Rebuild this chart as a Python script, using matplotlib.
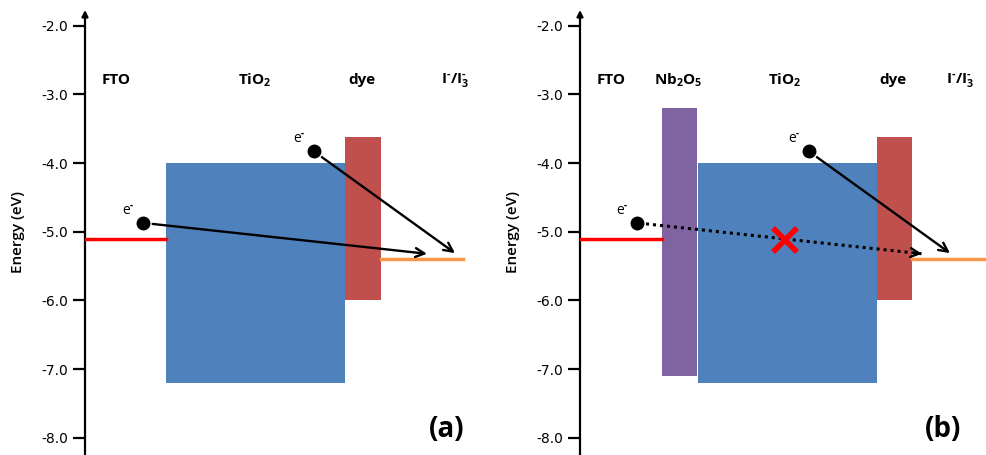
import matplotlib
matplotlib.use('Agg')
import matplotlib.pyplot as plt

plt.rcParams['font.family'] = ['Open Sans', 'DejaVu Sans']
plt.rcParams['mathtext.fontset'] = 'custom'
plt.rcParams['mathtext.rm'] = 'Open Sans:bold'
plt.rcParams['mathtext.it'] = 'Open Sans:bold'
plt.rcParams['mathtext.bf'] = 'Open Sans:bold'
plt.rcParams['mathtext.default'] = 'rm'

# energy levels (eV)
fto_level = -5.1
redox_level = -5.4
tio2_band = (-4.0, -7.2)
dye_band = (-3.62, -6.0)
nb2o5_band = (-3.2, -7.1)
yticks = [-2.0, -3.0, -4.0, -5.0, -6.0, -7.0, -8.0]
ytick_labels = ['-2.0', '-3.0', '-4.0', '-5.0', '-6.0', '-7.0', '-8.0']

# electron positions (x, energy)
e_start = (58, -4.87)
e_dye = (229, -3.83)
e_end_tio2 = (342, -5.32)
e_end_dye = (370, -5.31)

blue = '#4F81BD'
dred = '#C0504D'
purple = '#8064A2'
orange = '#F79646'

W, H = 986, 455
fig = plt.figure(figsize=(W / 100, H / 100), dpi=100)
ymin, ymax = -8.25, -1.77
SUP = r'$^{\text{-}}$'


def setup(ax, xmax):
    ax.set_xlim(0, xmax)
    ax.set_ylim(ymin, ymax)
    for s in ['top', 'right', 'bottom', 'left']:
        ax.spines[s].set_visible(False)
    ax.set_xticks([])
    ax.set_yticks(yticks)
    ax.set_yticklabels(ytick_labels, fontsize=10, family='DejaVu Sans')
    ax.tick_params(axis='y', direction='out', length=9, width=1.6, pad=3)
    # y axis drawn as an arrow
    ax.annotate('', xy=(0, ymax), xytext=(0, ymin),
                arrowprops=dict(arrowstyle='-|>', lw=1.6, color='k', mutation_scale=9,
                                shrinkA=0, shrinkB=0),
                annotation_clip=False)


def band(ax, x0, x1, b, color):
    ax.bar((x0 + x1) / 2, b[0] - b[1], width=x1 - x0, bottom=b[1], color=color, zorder=2)


def electron(ax, pos, label_dx=-15, label_dy=0.17):
    ax.plot(*pos, 'o', color='k', ms=9, zorder=5)
    ax.text(pos[0] + label_dx, pos[1] + label_dy, 'e' + SUP, fontsize=10,
            ha='center', va='center', zorder=5)


def arrow(ax, p0, p1):
    ax.annotate('', xy=p1, xytext=p0,
                arrowprops=dict(arrowstyle='->', lw=1.7, color='k',
                                mutation_scale=16, shrinkA=7, shrinkB=0),
                zorder=6)


def dotted_arrow(ax, p0, p1):
    # dotted shaft, solid head
    x0 = p0[0] + 9
    y0 = p0[1] + (p1[1] - p0[1]) * 9 / (p1[0] - p0[0])
    ax.plot([x0, p1[0]], [y0, p1[1]], color='k', lw=2.2, linestyle=(0, (1, 1.3)), zorder=6)
    t = 0.97
    pm = (p0[0] + (p1[0] - p0[0]) * t, p0[1] + (p1[1] - p0[1]) * t)
    ax.annotate('', xy=p1, xytext=pm,
                arrowprops=dict(arrowstyle='->', lw=1.7, color='k',
                                mutation_scale=16, shrinkA=0, shrinkB=0),
                zorder=6)


label_y = -2.79
lab_fs = 11

# panel (a)
ax1 = fig.add_axes([85 / W, 0, 400 / W, 445 / H])
setup(ax1, 400)
ax1.plot([0, 81], [fto_level, fto_level], color='#FF0000', lw=2.5, zorder=3)
band(ax1, 81, 260, tio2_band, blue)
band(ax1, 260, 296, dye_band, dred)
ax1.plot([296, 378], [redox_level, redox_level], color=orange, lw=2.5, zorder=3)
electron(ax1, e_start)
electron(ax1, e_dye)
arrow(ax1, e_start, e_end_tio2)
arrow(ax1, e_dye, e_end_dye)
for x, t in [(31, 'FTO'), (170, 'TiO$_2$'), (277, 'dye'), (370, 'I' + SUP + '/I$_3^{\\text{-}}$')]:
    ax1.text(x, label_y, t, fontsize=lab_fs, fontweight='bold', ha='center', va='center')
ax1.text(362, -7.88, '(a)', fontsize=20, fontweight='bold', ha='center', va='center')
fig.text(18 / W, 1 - 232 / H, 'Energy (eV)', rotation=90, fontsize=11,
         fontweight='semibold', ha='center', va='center')

# panel (b)
ax2 = fig.add_axes([580 / W, 0, 406 / W, 445 / H])
setup(ax2, 406)
ax2.plot([0, 82], [fto_level, fto_level], color='#FF0000', lw=2.5, zorder=3)
band(ax2, 82, 117, nb2o5_band, purple)
band(ax2, 118, 297, tio2_band, blue)
band(ax2, 297, 332, dye_band, dred)
ax2.plot([332, 406], [redox_level, redox_level], color=orange, lw=2.5, zorder=3)
electron(ax2, (57, e_start[1]))
electron(ax2, e_dye)
dotted_arrow(ax2, (57, e_start[1]), e_end_tio2)
arrow(ax2, e_dye, e_end_dye)
ax2.plot(205, -5.12, 'x', color='#FF0000', ms=17, mew=4, zorder=7)
for x, t in [(31, 'FTO'), (98, 'Nb$_2$O$_5$'), (205, 'TiO$_2$'), (313, 'dye'),
             (380, 'I' + SUP + '/I$_3^{\\text{-}}$')]:
    ax2.text(x, label_y, t, fontsize=lab_fs, fontweight='bold', ha='center', va='center')
ax2.text(363, -7.88, '(b)', fontsize=20, fontweight='bold', ha='center', va='center')
fig.text(513 / W, 1 - 232 / H, 'Energy (eV)', rotation=90, fontsize=11,
         fontweight='semibold', ha='center', va='center')

fig.savefig('out.png', dpi=100)
